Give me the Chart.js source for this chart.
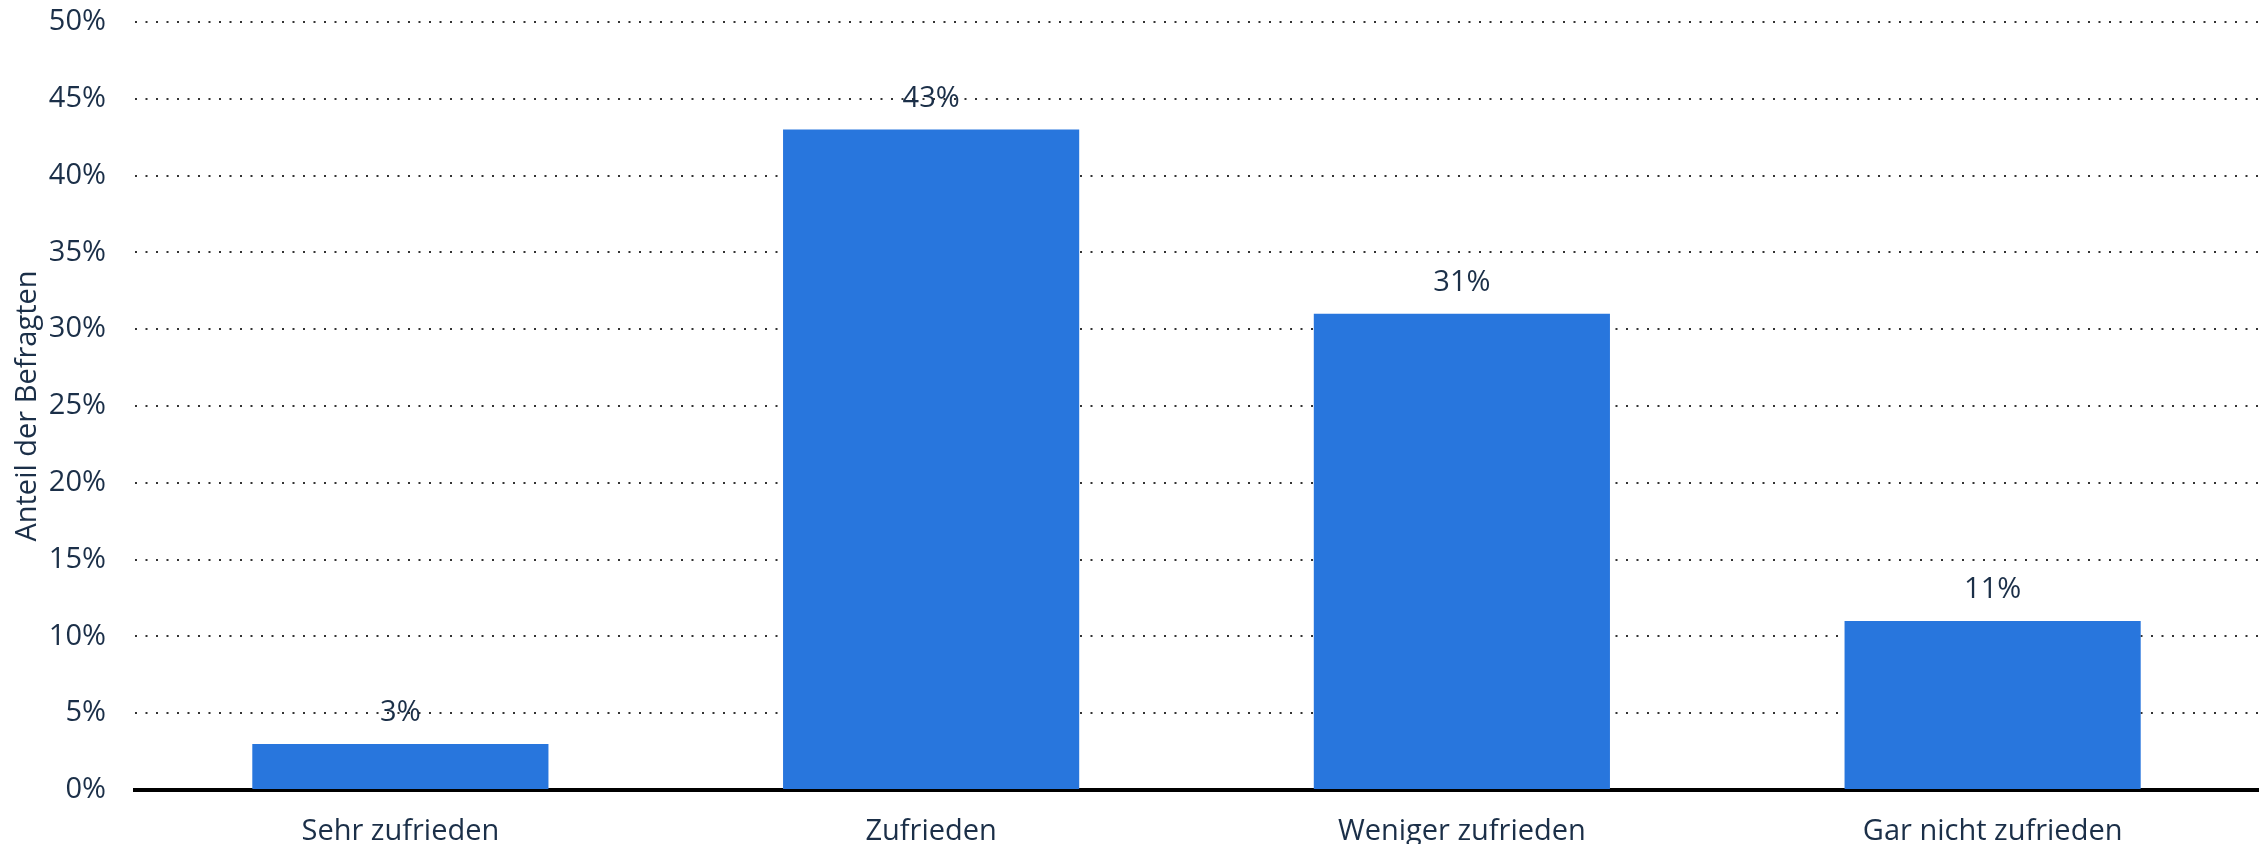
<!DOCTYPE html>
<html>
<head>
<meta charset="utf-8">
<script src="https://cdn.jsdelivr.net/npm/chart.js@4/dist/chart.umd.min.js"></script>
<style>
  html, body { margin: 0; padding: 0; background: #fff; }
  #wrap { width: 2266px; height: 844px; }
</style>
</head>
<body>
<div id="wrap"><canvas id="chart" width="2266" height="844"></canvas></div>
<script>
// Chart data
const categories = ["Sehr zufrieden", "Zufrieden", "Weniger zufrieden", "Gar nicht zufrieden"];
const shares = [3, 43, 31, 11];
const yTicks = [0, 5, 10, 15, 20, 25, 30, 35, 40, 45, 50];

const textColor = "#1b2f48";
const barColor = "#2876dd";
const fontFamily = "'Open Sans', 'Noto Sans', sans-serif";

// Value labels above bars
const valueLabels = {
    id: "valueLabels",
    afterDatasetsDraw(chart) {
        const { ctx } = chart;
        const meta = chart.getDatasetMeta(0);
        ctx.save();
        ctx.font = `29px ${fontFamily}`;
        ctx.fillStyle = textColor;
        ctx.textAlign = "center";
        ctx.textBaseline = "middle";
        meta.data.forEach((bar, i) => {
            ctx.fillText(shares[i] + "%", bar.x, bar.y - 31);
        });
        ctx.restore();
    }
};

const ctx = document.getElementById("chart").getContext("2d");
new Chart(ctx, {
    type: "bar",
    data: {
        labels: categories,
        datasets: [{
            data: shares,
            backgroundColor: barColor,
            borderWidth: 0,
            categoryPercentage: 1,
            barPercentage: 0.558
        }]
    },
    options: {
        responsive: false,
        animation: false,
        layout: { padding: { top: 0, right: 8, left: 0, bottom: 0 } },
        plugins: { legend: { display: false }, tooltip: { enabled: false } },
        scales: {
            x: {
                grid: { display: false },
                border: { display: true, color: "#000", width: 4 },
                ticks: { color: textColor, font: { family: fontFamily, size: 29 }, padding: 16 },
                afterFit(scale) { scale.height = 54; }
            },
            y: {
                min: 0,
                max: 50,
                afterBuildTicks(scale) { scale.ticks = yTicks.map(v => ({ value: v })); },
                grid: { color: "#333", lineWidth: 2, drawTicks: false },
                border: { display: false, dash: [2, 8.5] },
                ticks: {
                    color: textColor,
                    font: { family: fontFamily, size: 29 },
                    padding: 29,
                    callback: v => v + "%"
                },
                title: {
                    display: true,
                    text: "Anteil der Befragten",
                    color: textColor,
                    font: { family: fontFamily, size: 29 },
                    padding: { top: 10, bottom: 0 }
                },
                afterFit(scale) {
                    scale.width = 135;
                    scale.paddingTop = 22;
                    scale.paddingBottom = 0;
                }
            }
        }
    },
    plugins: [valueLabels]
});
</script>
</body>
</html>
